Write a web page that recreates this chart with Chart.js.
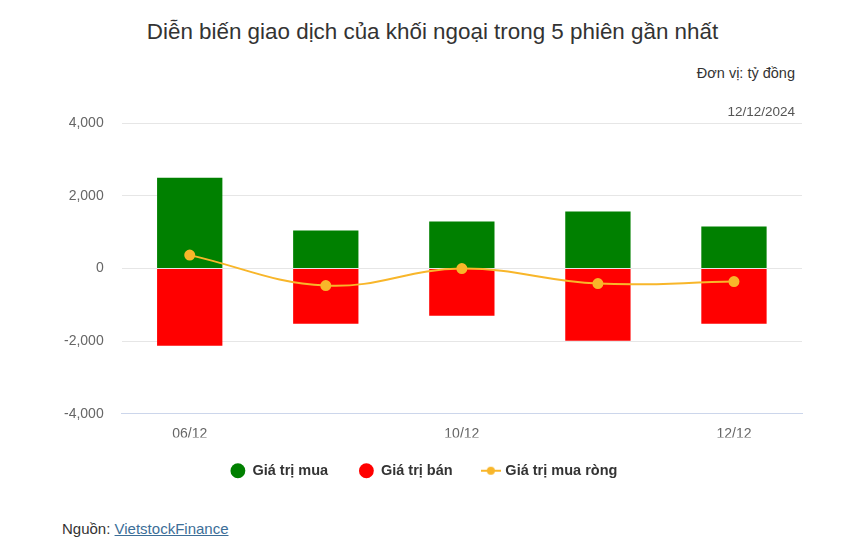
<!DOCTYPE html>
<html>
<head>
<meta charset="utf-8">
<script src="https://cdn.jsdelivr.net/npm/chart.js@4.4.1/dist/chart.umd.min.js"></script>
<style>
    body { margin:0; background:#fff; font-family:"Liberation Sans", Arial, sans-serif; }
    #wrap { position:relative; width:850px; height:557px; overflow:hidden; }
    #title { position:absolute; top:19px; left:0; width:865px; text-align:center; font-size:22.4px; color:#333; }
    #unit { position:absolute; top:65px; right:55px; font-size:14.5px; color:#333; }
    #date { position:absolute; top:104px; right:55px; font-size:13.5px; color:#555; }
    #box { position:absolute; top:97px; left:0; width:850px; height:391px; }
    #src { position:absolute; top:520px; left:62px; font-size:15px; color:#333; }
    #src a { color:#3c6e98; text-decoration:underline; }
</style>
</head>
<body>
<div id="wrap">
    <div id="title">Diễn biến giao dịch của khối ngoại trong 5 phiên gần nhất</div>
    <div id="unit">Đơn vị: tỷ đồng</div>
    <div id="box"><canvas id="chart1"></canvas></div>
    <div id="date">12/12/2024</div>
    <div id="src">Nguồn: <a>VietstockFinance</a></div>
</div>
<script>
// du lieu doc tu hinh
let ngay = ['06/12', '09/12', '10/12', '11/12', '12/12']
let giaTriMua = [2500, 1050, 1300, 1575, 1160]
let giaTriBan = [-2130, -1520, -1300, -1990, -1520]
let muaRong = [370, -470, 0, -415, -360]
let yTicks = [-4000, -2000, 0, 2000, 4000]

let mauLine = '#f8b62a'
let legendPad = 31
let bot = legendPad - 26 // bu lai khoang doc cua legend

// icon legend cho duong: gach ngang + cham tron
let icon = document.createElement('canvas')
icon.width = 20
icon.height = 10
let ic = icon.getContext('2d')
ic.strokeStyle = mauLine
ic.lineWidth = 2
ic.beginPath(); ic.moveTo(0, 5); ic.lineTo(20, 5); ic.stroke()
ic.fillStyle = mauLine
ic.beginPath(); ic.arc(10, 5, 4, 0, Math.PI * 2); ic.fill()

let legendFix = {
    id: 'legendFix',
    beforeInit: function (chart) {
        let fit = chart.legend.fit
        chart.legend.fit = function () {
            fit.call(this)
            this.height = this.height - bot
        }
    },
    afterLayout: function (chart) {
        chart.legend.top -= bot
        chart.legend.bottom -= bot
    }
}

let ctx = document.getElementById('chart1').getContext('2d')

let khoiNgoai = new Chart(ctx, {
    type: 'bar',
    data: {
        labels: ngay,
        datasets: [{
            label: 'Giá trị mua',
            data: giaTriMua,
            backgroundColor: '#008000',
            stack: 'gd',
            order: 2,
        }, {
            label: 'Giá trị bán',
            data: giaTriBan,
            backgroundColor: '#ff0000',
            stack: 'gd',
            order: 2,
        }, {
            type: 'line',
            label: 'Giá trị mua ròng',
            data: muaRong,
            borderColor: mauLine,
            backgroundColor: mauLine,
            borderWidth: 2,
            pointRadius: 4.5,
            pointHoverRadius: 5,
            tension: 0.4,
            stack: 'net',
            order: 1,
        }]
    },
    options: {
        responsive: true,
        maintainAspectRatio: false,
        animation: false,
        layout: { padding: { left: 46, right: 48, top: 12, bottom: 0 } },
        datasets: {
            bar: { categoryPercentage: 1, barPercentage: 0.48, borderWidth: 0 }
        },
        scales: {
            x: {
                stacked: true,
                grid: { display: false, drawTicks: false },
                border: { display: true, color: '#ccd6eb', width: 1 },
                afterFit: function (axis) { axis.height = axis.height - 17 },
                ticks: {
                    color: '#666', padding: 12, maxRotation: 0,
                    autoSkip: true, maxTicksLimit: 3,
                    font: { family: '"Liberation Sans", Arial', size: 14 }
                }
            },
            y: {
                stacked: true,
                min: -4000, max: 4000,
                afterBuildTicks: function (axis) {
                    axis.ticks = yTicks.map(function (v) { return { value: v } })
                },
                grid: { color: '#e6e6e6', drawTicks: false },
                border: { display: false },
                ticks: {
                    color: '#666', padding: 18,
                    font: { family: '"Liberation Sans", Arial', size: 14 },
                    callback: function (v) { return v.toLocaleString('en-US') }
                }
            }
        },
        plugins: {
            legend: {
                position: 'bottom',
                labels: {
                    usePointStyle: true,
                    pointStyle: 'circle',
                    boxHeight: 10.5,
                    padding: legendPad,
                    color: '#333',
                    font: { family: '"Liberation Sans", Arial', size: 14.5, weight: 'bold' },
                    sort: function (a, b) { return a.datasetIndex - b.datasetIndex },
                    generateLabels: function (chart) {
                        let items = Chart.defaults.plugins.legend.labels.generateLabels(chart)
                        items.forEach(function (it) {
                            if (it.datasetIndex === 2) it.pointStyle = icon
                        })
                        return items
                    }
                }
            },
            tooltip: { enabled: false }
        }
    },
    plugins: [legendFix]
});
</script>
</body>
</html>
